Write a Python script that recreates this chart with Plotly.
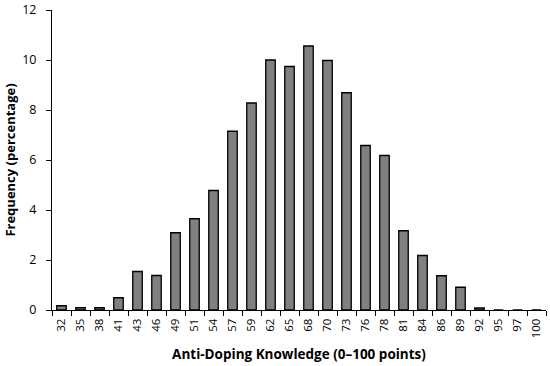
import plotly.graph_objects as go

categories = ["32", "35", "38", "41", "43", "46", "49", "51", "54", "57", "59", "62", "65",
              "68", "70", "73", "76", "78", "81", "84", "86", "89", "92", "95", "97", "100"]
frequency = [0.17, 0.09, 0.09, 0.49, 1.54, 1.38, 3.09, 3.65, 4.78, 7.15, 8.28, 10.0, 9.74,
             10.56, 9.98, 8.69, 6.58, 6.18, 3.17, 2.18, 1.37, 0.91, 0.08, 0, 0, 0]
y_ticks = [0, 2, 4, 6, 8, 10, 12]

FONT = "Open Sans"

fig = go.Figure(go.Bar(
    x=categories, y=frequency,
    marker=dict(color="#808080", line=dict(color="#000000", width=1.3)),
))

fig.update_layout(
    width=550, height=366,
    margin=dict(l=52, r=4, t=10, b=56),
    plot_bgcolor="white", paper_bgcolor="white",
    bargap=0.5,
    showlegend=False,
    font=dict(family=FONT, color="#000000", size=12),
)
fig.update_xaxes(
    type="category",
    automargin=False,
    tickson="boundaries",
    ticks="outside", ticklen=5, tickcolor="#000000", tickwidth=1,
    showline=True, linecolor="#000000", linewidth=1,
    tickangle=-90,
    ticklabelstandoff=3,
    tickfont=dict(family=FONT, size=11.5),
    showgrid=False,
    title=dict(text="<b>Anti-Doping Knowledge (0–100 points)</b>", font=dict(family=FONT, size=13.5), standoff=12),
)
fig.update_yaxes(
    automargin=False,
    range=[0, 12], tickvals=y_ticks,
    ticks="outside", ticklen=5, tickcolor="#000000", tickwidth=1,
    showline=True, linecolor="#000000", linewidth=1,
    showgrid=False, zeroline=False,
    ticklabelstandoff=7,
    tickfont=dict(family=FONT, size=12.5),
    title=dict(text="<b>Frequency (percentage)</b>", font=dict(family=FONT, size=13), standoff=3),
)

# remove the page's default 8px body margin so the figure fills the window exactly
fig.write_html("out.html", config={"displayModeBar": False},
               post_script="document.body.style.margin='0';")
